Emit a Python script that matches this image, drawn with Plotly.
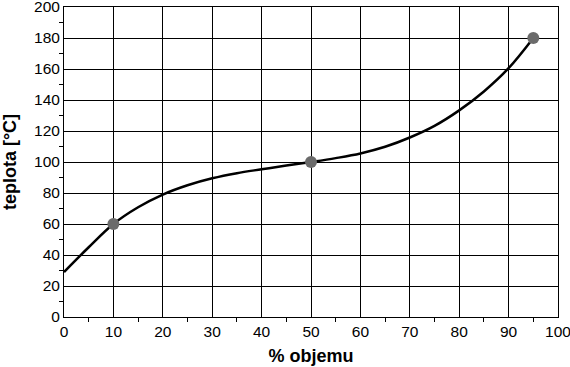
import plotly.graph_objects as go

curve_x = [0, 5, 10, 15, 20, 25, 30, 35, 40, 45, 50, 55, 60, 65, 70, 75, 80, 85, 90, 95]
curve_y = [29, 45, 60, 70.8, 79, 85, 89.5, 92.8, 95.3, 97.7, 100, 102.5, 105.5, 109.8,
           115.8, 123.3, 133.3, 145.5, 160.5, 180]
point_x = [10, 50, 95]
point_y = [60, 100, 180]

FONT = "Liberation Sans, Arial"

fig = go.Figure()
fig.add_trace(go.Scatter(x=curve_x, y=curve_y, mode="lines",
                         line=dict(color="black", width=2.5, shape="spline", smoothing=1.0),
                         hoverinfo="skip", showlegend=False))
fig.add_trace(go.Scatter(x=point_x, y=point_y, mode="markers",
                         marker=dict(color="#6b6b6b", size=12, line=dict(width=0)),
                         showlegend=False))

axis_common = dict(showgrid=True, gridcolor="black", gridwidth=1,
                   showline=True, linecolor="black", linewidth=1, mirror=True,
                   zeroline=False, ticks="", automargin=False,
                   ticklabeloverflow="allow",
                   tickfont=dict(family=FONT, size=15.5, color="black"))

fig.update_xaxes(range=[0, 100], dtick=10, tick0=0,
                 minor=dict(ticks="outside", ticklen=4, dtick=5, tickcolor="black", showgrid=False),
                 title=dict(text="<b>% objemu</b>", font=dict(family=FONT, size=18, color="black"), standoff=10),
                 **axis_common)
fig.update_yaxes(range=[0, 200], dtick=20, tick0=0,
                 minor=dict(ticks="outside", ticklen=4, dtick=10, tickcolor="black", showgrid=False),
                 title=dict(text="<b>teplota [°C]</b>", font=dict(family=FONT, size=18, color="black"), standoff=16),
                 **axis_common)

fig.update_layout(width=570, height=367, margin=dict(l=64, r=12, t=7, b=50),
                  plot_bgcolor="white", paper_bgcolor="white")

fig.write_html("out.html", config={"displayModeBar": False},
               post_script="document.body.style.margin='0';document.body.style.padding='0';")
